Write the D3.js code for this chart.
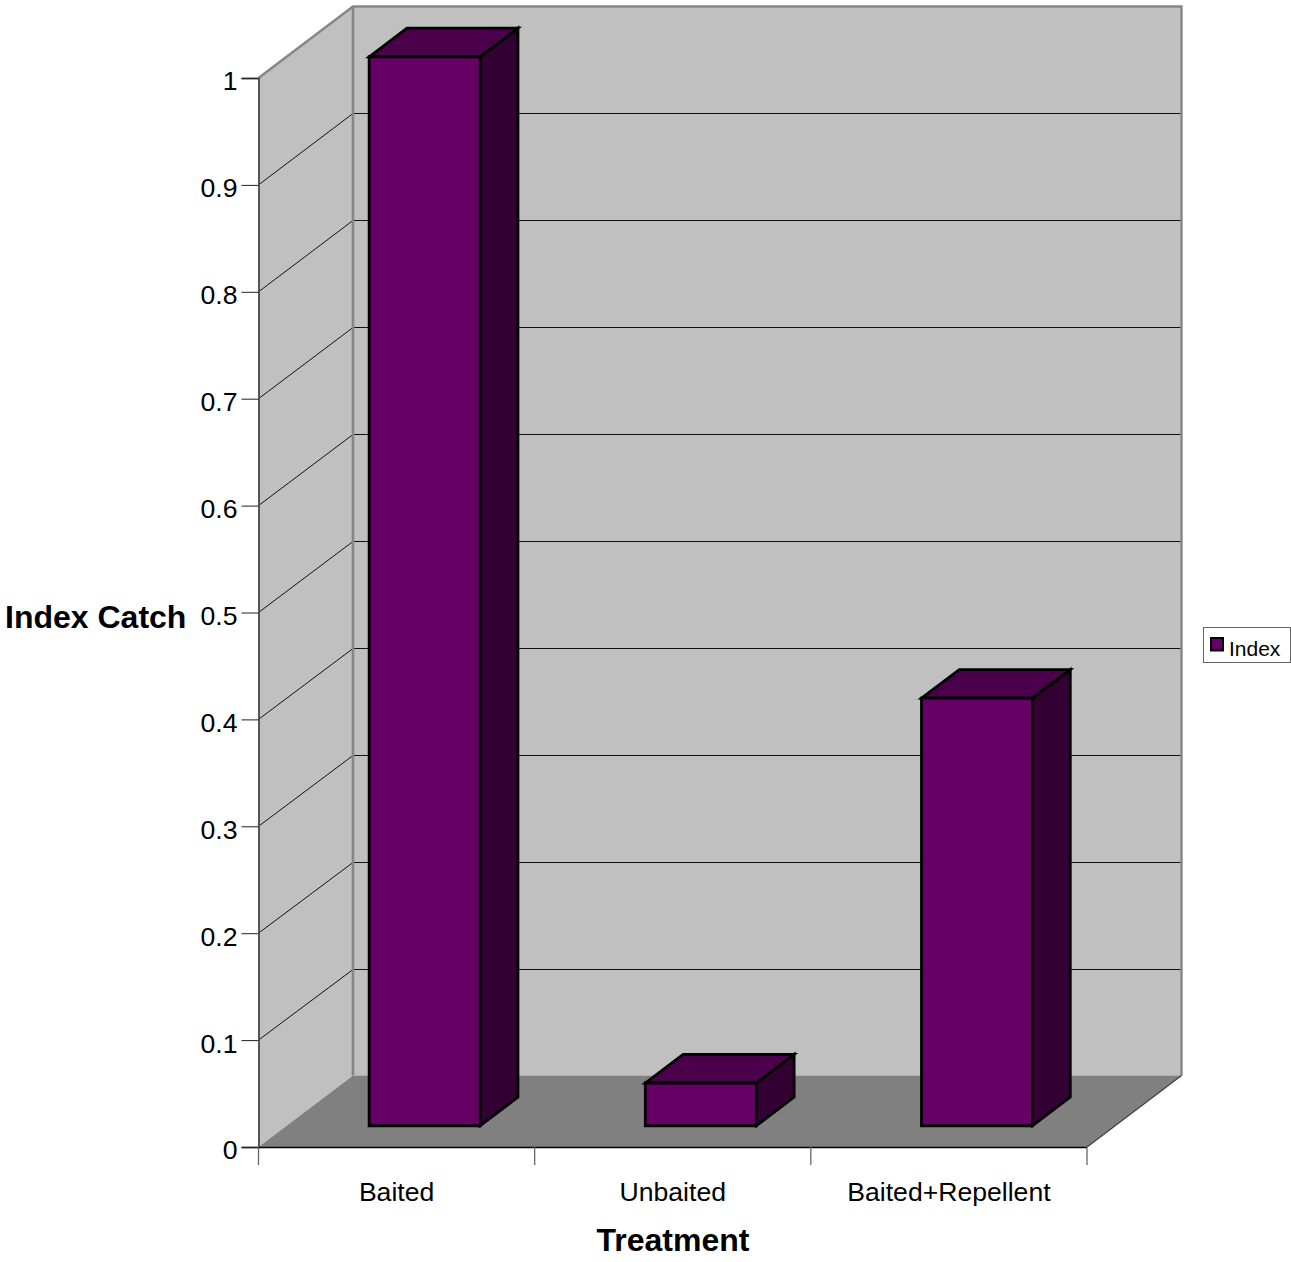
<!DOCTYPE html>
<html>
<head>
<meta charset="utf-8">
<script src="https://cdn.jsdelivr.net/npm/d3@7/dist/d3.min.js"></script>
<style>
  html, body { margin: 0; padding: 0; background: #fff; }
  svg { display: block; }
  text { font-family: "Liberation Sans", Arial, sans-serif; fill: #000; }
</style>
</head>
<body>
<svg id="chart" width="1291" height="1262"></svg>
<script>
const treatments = ["Baited", "Unbaited", "Baited+Repellent"];
const indexValues = [1.0, 0.04, 0.4];
const yTicks = [0, 0.1, 0.2, 0.3, 0.4, 0.5, 0.6, 0.7, 0.8, 0.9, 1];
const seriesName = "Index";
const yTitle = "Index Catch";
const xTitle = "Treatment";

// Oblique projection of the 3D box: depth runs up and to the right.
const depthX = 94.5, depthY = -71.5;
const barColors = { front: "#660066", top: "#4a004a", side: "#330033" };

const x = d3.scaleBand().domain(treatments).range([258.5, 1087]);
const y = d3.scaleLinear().domain([0, 1]).range([1147, 78]);
const depthNear = 0.297, depthFar = 0.697;
const barWidth = 111;

const svg = d3.select("#chart");
const poly = pts => pts.map(p => p.join(",")).join(" ");
const project = (px, py, d) => [px + depthX * d, py + depthY * d];
const crisp = v => Math.round(v) + 0.5;

const [x0, x1] = x.range();
const y0 = y(0), y1 = y(1);

// Walls and floor
svg.append("polygon")
  .attr("points", poly([[x0, y1], project(x0, y1, 1), project(x0, y0, 1), [x0, y0]]))
  .attr("fill", "#c0c0c0");
svg.append("polygon")
  .attr("points", poly([project(x0, y1, 1), project(x1, y1, 1), project(x1, y0, 1), project(x0, y0, 1)]))
  .attr("fill", "#c0c0c0");
svg.append("polygon")
  .attr("points", poly([[x0, y0], project(x0, y0, 1), project(x1, y0, 1), [x1, y0]]))
  .attr("fill", "#808080");

// Gridlines across the side wall and back wall
const grid = svg.append("g").attr("stroke", "#111").attr("stroke-width", 1);
yTicks.filter(t => t > 0 && t < 1).forEach(t => {
  const b = project(x0, y(t), 1), c = project(x1, y(t), 1);
  grid.append("polyline")
    .attr("points", poly([[x0, y(t)], [b[0], crisp(b[1])], [c[0], crisp(c[1])]]))
    .attr("fill", "none");
});

// Wall outlines
const edge = svg.append("g").attr("stroke", "#868686").attr("fill", "none");
edge.append("polyline")
  .attr("stroke-width", 2.4)
  .attr("points", poly([[x0, y1], project(x0, y1, 1), project(x1, y1, 1), project(x1, y0, 1)]));
edge.append("line")
  .attr("stroke-width", 2.6)
  .attr("x1", project(x0, 0, 1)[0]).attr("x2", project(x0, 0, 1)[0])
  .attr("y1", project(x0, y1, 1)[1]).attr("y2", project(x0, y0, 1)[1]);
svg.append("line")
  .attr("stroke", "#444").attr("stroke-width", 1.4)
  .attr("x1", x1).attr("y1", y0)
  .attr("x2", project(x1, y0, 1)[0]).attr("y2", project(x1, y0, 1)[1]);

// Bars
const bars = svg.append("g").attr("stroke", "#000").attr("stroke-width", 2.8).attr("stroke-linejoin", "miter");
treatments.forEach((name, i) => {
  const cx = x(name) + x.bandwidth() / 2;
  const left = cx - barWidth / 2, right = cx + barWidth / 2;
  const top = y(indexValues[i]), base = y(0);
  const A = (px, py) => project(px, py, depthNear);
  const B = (px, py) => project(px, py, depthFar);
  bars.append("polygon").attr("fill", barColors.side)
    .attr("points", poly([A(right, top), B(right, top), B(right, base), A(right, base)]));
  bars.append("polygon").attr("fill", barColors.top)
    .attr("points", poly([A(left, top), B(left, top), B(right, top), A(right, top)]));
  bars.append("polygon").attr("fill", barColors.front)
    .attr("points", poly([A(left, top), A(right, top), A(right, base), A(left, base)]));
});

// Value axis
const yAxis = svg.append("g").attr("transform", `translate(${x0},0)`)
  .call(d3.axisLeft(y).tickValues(yTicks).tickFormat(d3.format("~g")).tickSize(17).tickPadding(4));
yAxis.select(".domain").attr("stroke", "#555").attr("stroke-width", 2);
yAxis.selectAll(".tick line").attr("stroke", "#222").attr("stroke-width", 1);
yAxis.selectAll(".tick text")
  .style("font-family", '"Liberation Sans", Arial, sans-serif').style("font-size", "26.6px")
  .attr("fill", "#000").attr("dy", "0.45em");

// Category axis
const xAxis = svg.append("g").attr("transform", `translate(0,${y0})`)
  .call(d3.axisBottom(x).tickSize(0).tickPadding(35));
xAxis.select(".domain").attr("d", `M${x0},0.5H${x1}`).attr("stroke", "#000").attr("stroke-width", 1.6);
xAxis.selectAll(".tick text")
  .style("font-family", '"Liberation Sans", Arial, sans-serif').style("font-size", "26.6px")
  .attr("fill", "#000");
const boundaries = treatments.map(t => x(t)).concat([x1]);
svg.append("g").attr("stroke", "#666").attr("stroke-width", 1.3)
  .selectAll("line").data(boundaries).join("line")
  .attr("x1", d => d).attr("x2", d => d).attr("y1", y0).attr("y2", y0 + 18);

// Axis titles
svg.append("text").attr("x", 5).attr("y", 628)
  .attr("font-size", 32).attr("font-weight", "bold").text(yTitle);
svg.append("text").attr("x", 673).attr("y", 1251).attr("text-anchor", "middle")
  .attr("font-size", 32).attr("font-weight", "bold").text(xTitle);

// Legend
const legend = svg.append("g");
legend.append("rect").attr("x", 1203.5).attr("y", 627.5).attr("width", 87).attr("height", 35)
  .attr("fill", "#fff").attr("stroke", "#666").attr("stroke-width", 1);
legend.append("rect").attr("x", 1211).attr("y", 638).attr("width", 12).attr("height", 12.5)
  .attr("fill", barColors.front).attr("stroke", "#000").attr("stroke-width", 2);
legend.append("text").attr("x", 1229).attr("y", 656).attr("font-size", 21).text(seriesName);
</script>
</body>
</html>
